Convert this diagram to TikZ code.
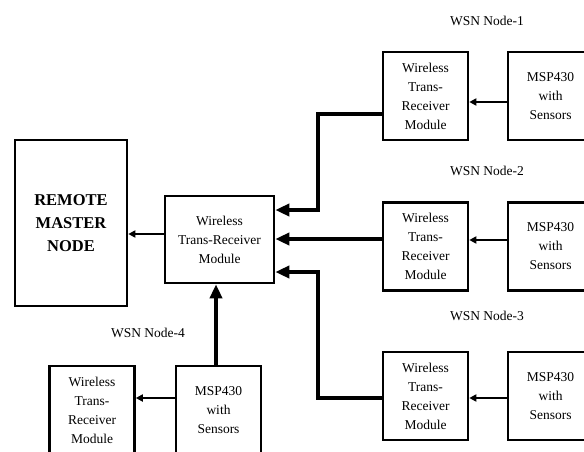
\documentclass[tikz,border=0pt]{standalone}
\usepackage{fontspec}
\setmainfont{Liberation Serif}
\usetikzlibrary{arrows.meta}
\begin{document}
\begin{tikzpicture}[x=1pt,y=-1pt,
 box/.style={draw, line width=2.6pt, minimum width=85pt, minimum height=88pt, align=center, font=\fontsize{13.5}{19}\selectfont, inner sep=0pt},
 thinarrow/.style={line width=2.4pt, -{Triangle[length=7pt,width=7pt]}},
 thickarrow/.style={line width=4.8pt, -{Triangle[length=14pt,width=12pt]}},
 lbl/.style={font=\fontsize{13.5}{16}\selectfont}]
\useasboundingbox (0,0) rectangle (584,452);
\clip (0,0) rectangle (584,452);
% central
\node[box] (master) at (71,223) [minimum width=112pt, minimum height=166pt, font=\fontsize{16.5}{23}\selectfont\bfseries] {REMOTE\\MASTER\\NODE};
\node[box, minimum width=109pt, minimum height=87pt] (cen) at (219.5,239.5) {Wireless\\Trans-Receiver\\Module};
% node 1
\node[box] (m1) at (425.5,96) {Wireless\\Trans-\\Receiver\\Module};
\node[box] (s1) at (550.5,96) {MSP430\\with\\Sensors};
% node 2
\node[box] (m2) at (425.5,246.5) {Wireless\\Trans-\\Receiver\\Module};
\node[box] (s2) at (550.5,246.5) {MSP430\\with\\Sensors};
% node 3
\node[box] (m3) at (425.5,396) {Wireless\\Trans-\\Receiver\\Module};
\node[box] (s3) at (550.5,396) {MSP430\\with\\Sensors};
% node 4
\node[box] (m4) at (92,410) {Wireless\\Trans-\\Receiver\\Module};
\node[box] (s4) at (218.5,410) {MSP430\\with\\Sensors};
% labels
\node[lbl] (l1) at (487,21) {WSN Node-1};
\node[lbl] (l2) at (487,171) {WSN Node-2};
\node[lbl] (l3) at (487,316) {WSN Node-3};
\node[lbl] (l4) at (148,333) {WSN Node-4};
% thin arrows
\draw[thinarrow] ([yshift=-6pt]s1.west) -- ([yshift=-6pt]m1.east);
\draw[thinarrow] ([yshift=6.5pt]s2.west) -- ([yshift=6.5pt]m2.east);
\draw[thinarrow] ([yshift=-2pt]s3.west) -- ([yshift=-2pt]m3.east);
\draw[thinarrow] ([yshift=12pt]s4.west) -- ([yshift=12pt]m4.east);
\draw[thinarrow] ([yshift=5.5pt]cen.west) -- ([yshift=-11pt]master.east);
% thick arrows
\coordinate (b1) at (318,114);
\coordinate (b3) at (318,398);
\draw[thickarrow] ([yshift=-18pt]m1.west) -- (b1) |- ([yshift=29.5pt]cen.east);
\draw[thickarrow] ([yshift=7.5pt]m2.west) -- ([yshift=0.5pt]cen.east);
\draw[thickarrow] ([yshift=-2pt]m3.west) -- (b3) |- ([yshift=-32.5pt]cen.east);
\draw[thickarrow] ([xshift=-2.5pt]s4.north) -- ([xshift=-3.5pt]cen.south);
\end{tikzpicture}
\end{document}
